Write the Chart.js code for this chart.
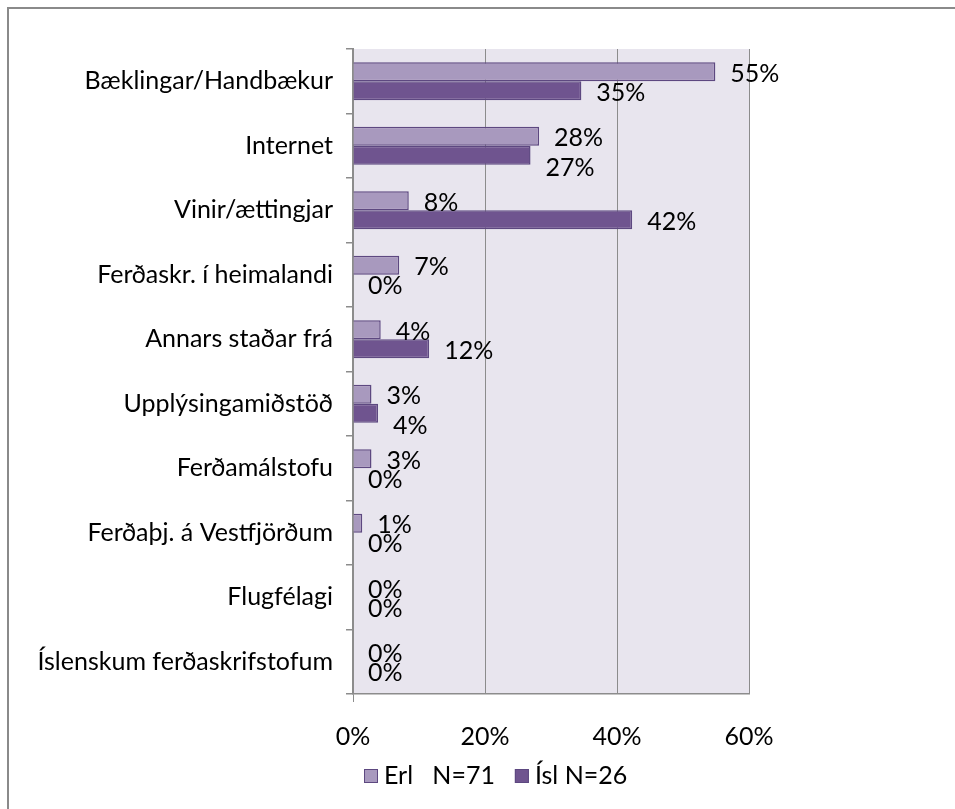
<!DOCTYPE html>
<html>
<head>
<meta charset="utf-8">
<script src="https://cdn.jsdelivr.net/npm/chart.js@4/dist/chart.umd.min.js"></script>
<style>
  html, body { margin: 0; padding: 0; background: #fff; overflow: hidden; }
  #frame { position: absolute; left: 7px; top: 7px; width: 1000px; height: 900px;
           border-left: 2px solid #8a8a8a; border-top: 2px solid #8a8a8a; }
  #c { position: absolute; left: 0; top: 0; }
</style>
</head>
<body>
<div id="frame"></div>
<canvas id="c" width="955" height="809"></canvas>
<script>
const categories = [
  "Bæklingar/Handbækur", "Internet", "Vinir/ættingjar", "Ferðaskr. í heimalandi",
  "Annars staðar frá", "Upplýsingamiðstöð", "Ferðamálstofu", "Ferðaþj. á Vestfjörðum",
  "Flugfélagi", "Íslenskum ferðaskrifstofum"
];
const seriesNames = ["Erl   N=71", "Ísl N=26"];
const erlValues = [54.9, 28.2, 8.45, 7.0, 4.2, 2.8, 2.8, 1.4, 0, 0];
const islValues = [34.6, 26.9, 42.3, 0, 11.54, 3.8, 0, 0, 0, 0];
const xTicks = [0, 20, 40, 60];

const FONT = "Lato, 'Open Sans', sans-serif";
const FSIZE = 25;
const colors = {
  erl: "#a899be", isl: "#6f548f", border: "#5d4880",
  plotBg: "#e8e5ee", grid: "#8c8c8c"
};

const plotBgPlugin = {
  id: "plotBg",
  beforeDraw(chart) {
    const a = chart.chartArea, ctx = chart.ctx;
    ctx.save();
    ctx.fillStyle = colors.plotBg;
    ctx.fillRect(a.left, a.top, a.right - a.left, a.bottom - a.top);
    ctx.restore();
  }
};

const labelPlugin = {
  id: "valueLabels",
  afterDatasetsDraw(chart) {
    const ctx = chart.ctx;
    ctx.save();
    ctx.font = FSIZE + "px " + FONT;
    ctx.fillStyle = "#000";
    ctx.textAlign = "left";
    ctx.textBaseline = "middle";
    const m0 = chart.getDatasetMeta(0), m1 = chart.getDatasetMeta(1);
    const d0 = chart.data.datasets[0].data, d1 = chart.data.datasets[1].data;
    for (let i = 0; i < d0.length; i++) {
      const t0 = Math.round(d0[i]) + "%", t1 = Math.round(d1[i]) + "%";
      const b0 = m0.data[i], b1 = m1.data[i];
      const x0 = b0.x + 15, x1 = b1.x + 15;
      const w0 = ctx.measureText(t0).width, w1 = ctx.measureText(t1).width;
      let y0 = b0.y + 2, y1 = b1.y + 2;
      // simple collision avoidance: push lower label down when both overlap
      if (d0[i] > 0 && d1[i] > 0 && x0 < x1 + w1 && x1 < x0 + w0) {
        y1 += 11;
      }
      ctx.fillText(t0, x0, y0);
      ctx.fillText(t1, x1, y1);
    }
    ctx.restore();
  }
};

const legendPlugin = {
  id: "customLegend",
  afterDraw(chart) {
    const ctx = chart.ctx;
    ctx.save();
    ctx.font = FSIZE + "px " + FONT;
    ctx.textBaseline = "middle";
    const y = 776;
    let x = 364;
    chart.data.datasets.forEach((ds, di) => {
      ctx.fillStyle = ds.backgroundColor;
      ctx.fillRect(x, y - 7, 14, 14);
      ctx.strokeStyle = colors.border;
      ctx.lineWidth = 1;
      ctx.strokeRect(x + 0.5, y - 6.5, 13, 13);
      ctx.fillStyle = "#000";
      ctx.fillText(ds.label, x + 20, y);
      x += 20 + ctx.measureText(ds.label).width + 20;
    });
    ctx.restore();
  }
};

new Chart(document.getElementById("c"), {
  type: "bar",
  data: {
    labels: categories,
    datasets: [
      { label: seriesNames[0], data: erlValues, backgroundColor: colors.erl,
        borderColor: colors.border, borderWidth: 1.5 },
      { label: seriesNames[1], data: islValues, backgroundColor: colors.isl,
        borderColor: colors.border, borderWidth: 1.5 }
    ]
  },
  options: {
    indexAxis: "y",
    responsive: false,
    animation: false,
    layout: { padding: { left: 0, top: 49, right: 206, bottom: 0 } },
    datasets: { bar: { categoryPercentage: 0.59, barPercentage: 1.0 } },
    plugins: { legend: { display: false }, tooltip: { enabled: false } },
    scales: {
      x: {
        min: 0, max: 60,
        afterBuildTicks(scale) { scale.ticks = xTicks.map(v => ({ value: v })); },
        afterFit(scale) { scale.height = 809 - 49 - 645; },
        border: { display: true, color: colors.grid, width: 1.5 },
        grid: {
          color: colors.grid, lineWidth: 1,
          tickLength: 8,
          tickColor: ctx => ctx.index === 0 ? colors.grid : "rgba(0,0,0,0)"
        },
        ticks: {
          callback: v => v + "%",
          color: "#000",
          font: { family: FONT, size: FSIZE },
          padding: 20
        }
      },
      y: {
        afterFit(scale) { scale.width = 353; },
        border: { display: true, color: colors.grid, width: 2 },
        grid: { offset: true, drawOnChartArea: false, tickLength: 7, color: colors.grid, lineWidth: 1.5 },
        ticks: {
          color: "#000",
          font: { family: FONT, size: FSIZE },
          padding: 13
        }
      }
    }
  },
  plugins: [plotBgPlugin, labelPlugin, legendPlugin]
});
</script>
</body>
</html>
